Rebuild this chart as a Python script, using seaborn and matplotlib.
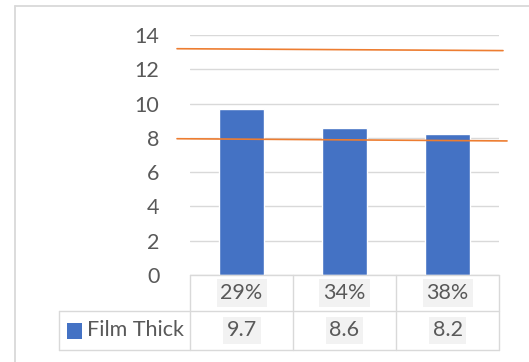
import matplotlib
matplotlib.use("Agg")
import matplotlib.pyplot as plt
import matplotlib.transforms as mtransforms
from matplotlib.lines import Line2D
from matplotlib.patches import Rectangle
import seaborn as sns
import pandas as pd

# Data
categories = ["29%", "34%", "38%"]
film_thick = [9.7, 8.6, 8.2]
series_name = "Film Thick"
y_ticks = [0, 2, 4, 6, 8, 10, 12, 14]
# Hand-drawn limit lines: (x0, y0, x1, y1) in data units
upper_line = [-0.626, 13.2, 2.539, 13.09]
lower_line = [-0.626, 7.95, 2.578, 7.82]

BLUE = "#4472c4"
ORANGE = "#ed7d31"
GRID = "#d9d9d9"
TEXT = "#595959"
HILITE = "#f2f2f2"
FS = 15.5

sns.set_theme(style="white")
plt.rcParams["font.family"] = ["Lato", "DejaVu Sans"]

W, H = 529, 362
fig = plt.figure(figsize=(W / 100, H / 100), dpi=100)
fig.patch.set_facecolor("white")

# Plot area in pixels: x 190..499, y 35..275
ax = fig.add_axes([190 / W, 1 - 275 / H, (499 - 190) / W, (275 - 35) / H])

df = pd.DataFrame({"cat": categories, "val": film_thick})
sns.barplot(data=df, x="cat", y="val", color=BLUE, width=0.43,
            saturation=1, ax=ax, zorder=3)

ax.set_xlim(-0.5, len(categories) - 0.5)
ax.set_ylim(0, 14)
ax.set_yticks(y_ticks)
ax.set_yticklabels([str(t) for t in y_ticks], color=TEXT, fontsize=FS)
ax.tick_params(axis="y", length=0, pad=22)
ax.set_xticks([])
ax.set_xlabel("")
ax.set_ylabel("")
for s in ax.spines.values():
    s.set_visible(False)
ax.grid(axis="y", color=GRID, linewidth=1, zorder=0)
ax.set_axisbelow(True)

# Limit lines drawn over the chart
for ln in (upper_line, lower_line):
    ax.add_line(Line2D([ln[0], ln[2]], [ln[1], ln[3]], color=ORANGE,
                       linewidth=1.2, clip_on=False, zorder=5))

# Data table below the plot area
bt = mtransforms.blended_transform_factory(ax.transData, ax.transAxes)
px = 1 / 240.0  # one pixel in axes-height units
row1 = -36 * px
row2 = -75 * px
x_left = -0.5
x_right = len(categories) - 0.5
x_legend = -0.5 - 131 / 103.0

lw = 1.0
# horizontal lines
ax.add_line(Line2D([x_left, x_right], [0, 0], color=GRID, lw=lw, transform=bt, clip_on=False, zorder=4))
ax.add_line(Line2D([x_legend, x_right], [row1, row1], color=GRID, lw=lw, transform=bt, clip_on=False))
ax.add_line(Line2D([x_legend, x_right], [row2, row2], color=GRID, lw=lw, transform=bt, clip_on=False))
# vertical lines
for i in range(len(categories) + 1):
    xv = -0.5 + i
    ax.add_line(Line2D([xv, xv], [0, row2], color=GRID, lw=lw, transform=bt, clip_on=False))
ax.add_line(Line2D([x_legend, x_legend], [row1, row2], color=GRID, lw=lw, transform=bt, clip_on=False))

box = dict(boxstyle="square,pad=0.18", facecolor=HILITE, edgecolor="none")
for i, (c, v) in enumerate(zip(categories, film_thick)):
    ax.text(i, (0 + row1) / 2, c, transform=bt, ha="center", va="center",
            fontsize=FS, color=TEXT, bbox=box, clip_on=False)
    ax.text(i, (row1 + row2) / 2, f"{v:.1f}", transform=bt, ha="center", va="center",
            fontsize=FS, color=TEXT, bbox=box, clip_on=False)

# Legend key inside the table
key_x0 = -0.5 - 123 / 103.0
key_w = 15 / 103.0
ymid = (row1 + row2) / 2
ax.add_patch(Rectangle((key_x0, ymid - 8 * px), key_w, 16 * px, transform=bt,
                       facecolor=BLUE, edgecolor="none", clip_on=False))
ax.text(-0.5 - 103 / 103.0, ymid, series_name, transform=bt, ha="left", va="center",
        fontsize=FS, color=TEXT, clip_on=False)

# Chart frame
fig.add_artist(Line2D([14.5 / W, 1], [1 - 5.5 / H, 1 - 5.5 / H], color=GRID, lw=1.3,
                      transform=fig.transFigure))
fig.add_artist(Line2D([14.5 / W, 14.5 / W], [0, 1 - 5.5 / H], color=GRID, lw=1.3,
                      transform=fig.transFigure))

fig.savefig("out.png", dpi=100)
